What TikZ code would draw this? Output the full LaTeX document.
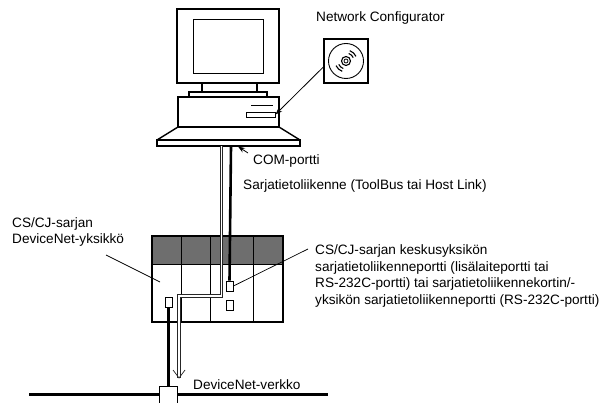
\documentclass[tikz,border=0pt]{standalone}
\usepackage{fontspec}
\setmainfont{Liberation Sans}
\usetikzlibrary{arrows.meta,calc}
\begin{document}
\begin{tikzpicture}[x=1pt,y=-1pt,
  lbl/.style={inner sep=0pt, anchor=west, font=\fontsize{13.6}{16}\selectfont},
  blocklbl/.style={inner sep=0pt, anchor=north west, align=left, font=\fontsize{13.6}{16.5}\selectfont},
  outline/.style={draw=black, line width=1.4pt},
  fine/.style={draw=black, line width=0.9pt},
  portbox/.style={draw=black, line width=0.9pt, fill=white, inner sep=0pt, minimum width=7pt, minimum height=10pt},
  buscable/.style={line width=3pt, black},
  pipe/.style={draw=black!85, double=white, double distance=1.8pt, line width=0.75pt},
  leader/.style={line width=0.7pt},
  ptr/.style={line width=0.8pt, -{Stealth[length=7pt,width=5pt]}},
]
\useasboundingbox (0,0) rectangle (602,403);

% --- personal computer ---
\draw[outline] (177,9) rectangle (279,83);
\draw[fine] (193,19) rectangle (263,73);
\draw[outline] (202,83) rectangle (257,92);
\draw[outline] (189,92) rectangle (267,97);
\draw[outline] (178,97) rectangle (279,127);
\draw[fine] (251,105) -- (273,105);
\node[draw, line width=0.9pt, minimum width=29pt, minimum height=5pt, inner sep=0pt] (slot) at (260.5,114.5) {};
% desk
\draw[outline, line join=round] (178,127) -- (157,140) -- (300,140) -- (279,127);
\draw[outline] (157,140) rectangle (300,146);
\coordinate (comport) at (238,146.5);
\coordinate (pipetop) at (221.5,146.5);
\coordinate (cabletop) at (231,146.5);

% --- installation disc ---
\node[draw, line width=1.3pt, minimum size=44pt, inner sep=0pt] (cd) at (346,61) {};
\draw[fine] (cd.center) circle (17.5);
\draw[line width=1.1pt] (cd.center) circle (4.5);
\draw[line width=0.8pt] (cd.center) circle (2);
\foreach \r in {8,11}{
  \draw[line width=1.1pt] ($(cd.center)+(-25:\r)$) arc (-25:-70:\r);
  \draw[line width=1.1pt] ($(cd.center)+(155:\r)$) arc (155:110:\r);
}
\node[lbl] (netcfg) at (316,18) {Network Configurator};
\draw[ptr] ([yshift=-6pt]cd.west) -- (slot.east);

% --- PLC rack ---
\fill[black!57] (152,236) rectangle (283,264);
\draw[outline] (152,236) rectangle (283,322);
\draw[fine] (152,264) -- (283,264);
\foreach \x in {181,210,253} \draw[fine] (\x,236) -- (\x,322);
\node[portbox] (p1) at (229.5,286) {};
\node[portbox] (p2) at (229.5,305) {};
\node[portbox] (p0) at (168.5,302) {};

% --- DeviceNet trunk ---
\coordinate (busL) at (29,394);
\coordinate (busR) at (328,394);
\draw[buscable] (busL) -- (busR);
\node[draw=black, line width=1.5pt, fill=white, inner sep=0pt, minimum width=18pt, minimum height=17pt] (tap) at (168.5,395) {};
\draw[buscable] (p0.south) -- (tap.north);
\node[lbl] (dnnet) at (193,385) {DeviceNet-verkko};

% --- serial link ---
\draw[buscable, line width=2.6pt] (cabletop) -- (p1.north);
\coordinate (pipeA) at (221.5,296);
\coordinate (pipeB) at (179,296);
\coordinate (pipeend) at (179,378);
\draw[pipe] (pipetop) -- (pipeA) -- (pipeB) -- (pipeend);
\draw[line width=0.7pt, black!85] ($(pipeend)+(-6,-8)$) -- (pipeend) -- ($(pipeend)+(6,-8)$);

% --- labels ---
\node[lbl] (com) at (253,161) {COM-portti};
\coordinate (comtail) at (248,153);
\draw[ptr] (comtail) -- (comport);
\node[lbl] (serial) at (243,186) {Sarjatietoliikenne (ToolBus tai Host Link)};

\node[blocklbl] (unit) at (12,217) {CS/CJ-sarjan\\DeviceNet-yksikkö};
\coordinate (unitpt) at (160,282);
\draw[leader] (106,255) -- (unitpt);

\node[blocklbl, text depth=0pt] (cpuport) at (315,244.5) {CS/CJ-sarjan keskusyksikön\\sarjatietoliikenneportti (lisälaiteportti tai\\RS-232C-portti) tai sarjatietoliikennekortin/-\\yksikön sarjatietoliikenneportti (RS-232C-portti)};
\draw[leader] (p1.east) -- (308,249);
\end{tikzpicture}
\end{document}
